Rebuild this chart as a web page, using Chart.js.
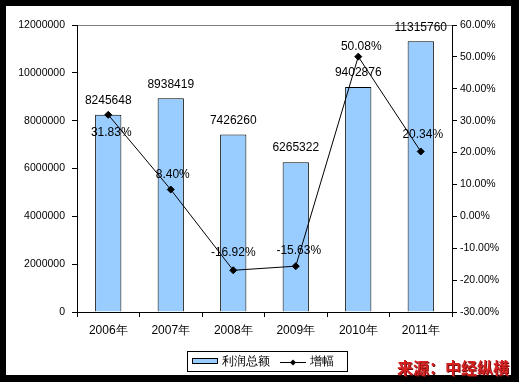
<!DOCTYPE html>
<html><head><meta charset="utf-8">
<script src="https://cdn.jsdelivr.net/npm/chart.js@4"></script>
<style>html,body{margin:0;padding:0;background:#000;}#wrap{width:519px;height:382px;}</style>
</head><body><div id="wrap"><canvas id="c" width="519" height="382"></canvas></div>
<script>
const categories = ['2006年','2007年','2008年','2009年','2010年','2011年'];
const profitTotal = [8245648, 8938419, 7426260, 6265322, 9402876, 11315760];
const growth = [0.3183, 0.0840, -0.1692, -0.1563, 0.5008, 0.2034];
const growthLabels = ['31.83%','8.40%','-16.92%','-15.63%','50.08%','20.34%'];
const seriesNames = ['利润总额','增幅'];
const sourceText = '来源：中经纵横';
// label offsets (dx, dy) relative to point, px
const growthLabelOffsets = [[3,18],[2,-15],[0,-18],[3,-15],[3,-10],[2,-17]];

const FONT = '"Liberation Sans", Arial, sans-serif';

const frame = {
  id:'frame',
  beforeDraw(chart){
    const ctx = chart.ctx;
    ctx.save();
    ctx.fillStyle='#000';ctx.fillRect(0,0,519,382);
    ctx.fillStyle='#fff';ctx.fillRect(6,6,505,369);
    const a = chart.chartArea;
    ctx.strokeStyle='#808080';ctx.lineWidth=1;
    ctx.beginPath();ctx.moveTo(a.left,a.top+0.5);ctx.lineTo(a.right,a.top+0.5);ctx.stroke();
    ctx.restore();
  },
  afterDraw(chart){
    const ctx = chart.ctx;
    ctx.save();
    // bar value labels
    ctx.font = '12px '+FONT; ctx.fillStyle='#000'; ctx.textAlign='center'; ctx.textBaseline='middle';
    const m0 = chart.getDatasetMeta(0);
    m0.data.forEach((b,i)=>{ ctx.fillText(String(profitTotal[i]), b.x, b.y-14); });
    const m1 = chart.getDatasetMeta(1);
    m1.data.forEach((p,i)=>{ const o=growthLabelOffsets[i]; ctx.fillText(growthLabels[i], p.x+o[0], p.y+o[1]); });
    // legend
    ctx.strokeStyle='#000'; ctx.lineWidth=1;
    ctx.strokeRect(187.5,351.5,160,20);
    ctx.fillStyle='#99ccff'; ctx.fillRect(192,358,26,6);
    ctx.strokeRect(192.5,358.5,25,5);
    ctx.fillStyle='#000'; ctx.textAlign='left'; ctx.font='12px '+FONT;
    ctx.fillText(seriesNames[0],222,362);
    ctx.beginPath(); ctx.moveTo(280,362.5); ctx.lineTo(306,362.5); ctx.stroke();
    ctx.beginPath(); ctx.moveTo(293,359.5); ctx.lineTo(296,362.5); ctx.lineTo(293,365.5); ctx.lineTo(290,362.5); ctx.closePath(); ctx.fill();
    ctx.fillText(seriesNames[1],310,362);
    // source
    ctx.font='bold 16px "Noto Sans CJK SC", sans-serif';
    ctx.fillStyle='#7a1010'; ctx.fillText(sourceText,398,369);
    ctx.fillStyle='#d42020'; ctx.fillText(sourceText,397,368);
    ctx.restore();
  }
};

new Chart(document.getElementById('c'), {
  type:'bar',
  data:{
    labels: categories,
    datasets:[
      {type:'bar', label:seriesNames[0], data:profitTotal, yAxisID:'y', backgroundColor:'#99ccff', borderColor:'#000', borderWidth:1, categoryPercentage:0.84, barPercentage:0.5, order:2},
      {type:'line', label:seriesNames[1], data:growth, yAxisID:'y1', borderColor:'#000', borderWidth:1, backgroundColor:'#000', pointStyle:'rectRot', pointRadius:3.5, pointBackgroundColor:'#000', pointBorderColor:'#000', tension:0, order:1}
    ]
  },
  options:{
    responsive:false, animation:false, devicePixelRatio:1,
    layout:{padding:{left:6,right:8,top:25,bottom:0}},
    plugins:{legend:{display:false}, tooltip:{enabled:false}},
    scales:{
      x:{
        grid:{display:true, drawOnChartArea:false, drawTicks:true, tickLength:5, color:'#000', offset:true},
        border:{display:true,color:'#000',width:1},
        ticks:{color:'#000', font:{size:12, family:FONT}, padding:6, maxRotation:0},
        afterFit(s){ s.height = 70; }
      },
      y:{
        position:'left', min:0, max:12000000,
        grid:{display:true, drawOnChartArea:false, tickLength:5, color:'#000'},
        border:{display:true,color:'#000',width:1},
        ticks:{stepSize:2000000, color:'#000', font:{size:10.5, family:FONT}, padding:7, callback:v=>String(v)},
        afterFit(s){ s.width = 71; }
      },
      y1:{
        position:'right', min:-0.3, max:0.6,
        grid:{display:true, drawOnChartArea:false, tickLength:5, color:'#000'},
        border:{display:true,color:'#000',width:1},
        ticks:{stepSize:0.1, color:'#000', font:{size:10.5, family:FONT}, padding:3, callback:v=>(v*100).toFixed(2)+'%'},
        afterFit(s){ s.width = 59; }
      }
    }
  },
  plugins:[frame]
});
</script></body></html>
